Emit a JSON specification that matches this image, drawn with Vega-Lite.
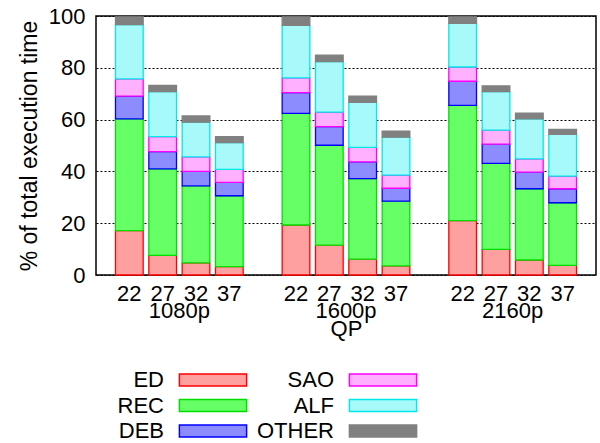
{
  "$schema": "https://vega.github.io/schema/vega-lite/v6.json",
  "width": 500,
  "height": 259,
  "autosize": {"type": "none"},
  "padding": {"left": 96, "top": 16, "right": 4, "bottom": 168},
  "background": "white",
  "config": {
    "font": "Liberation Sans",
    "view": {"stroke": "#000", "strokeWidth": 1.5},
    "axis": {"labelColor": "#000", "titleColor": "#000", "titleFontWeight": "normal", "labelFontSize": 22, "titleFontSize": 22}
  },
  "datasets": {
    "bars": [
      {"res": "1080p", "qp": "22", "bar": "1080p 22", "ED": 17.1, "REC": 43.2, "DEB": 8.8, "SAO": 6.6, "ALF": 21.0, "OTHER": 3.0},
      {"res": "1080p", "qp": "27", "bar": "1080p 27", "ED": 7.6, "REC": 33.4, "DEB": 6.6, "SAO": 5.8, "ALF": 17.4, "OTHER": 2.4},
      {"res": "1080p", "qp": "32", "bar": "1080p 32", "ED": 4.7, "REC": 29.7, "DEB": 5.6, "SAO": 5.6, "ALF": 13.4, "OTHER": 2.4},
      {"res": "1080p", "qp": "37", "bar": "1080p 37", "ED": 3.2, "REC": 27.4, "DEB": 5.2, "SAO": 5.0, "ALF": 10.3, "OTHER": 2.3},
      {"res": "1600p", "qp": "22", "bar": "1600p 22", "ED": 19.3, "REC": 43.1, "DEB": 8.0, "SAO": 5.7, "ALF": 20.3, "OTHER": 3.3},
      {"res": "1600p", "qp": "27", "bar": "1600p 27", "ED": 11.5, "REC": 38.6, "DEB": 7.2, "SAO": 5.6, "ALF": 19.5, "OTHER": 2.5},
      {"res": "1600p", "qp": "32", "bar": "1600p 32", "ED": 6.1, "REC": 31.1, "DEB": 6.5, "SAO": 5.6, "ALF": 17.4, "OTHER": 2.4},
      {"res": "1600p", "qp": "37", "bar": "1600p 37", "ED": 3.5, "REC": 25.0, "DEB": 5.0, "SAO": 5.1, "ALF": 14.6, "OTHER": 2.3},
      {"res": "2160p", "qp": "22", "bar": "2160p 22", "ED": 21.0, "REC": 44.5, "DEB": 9.3, "SAO": 5.5, "ALF": 16.9, "OTHER": 2.5},
      {"res": "2160p", "qp": "27", "bar": "2160p 27", "ED": 9.9, "REC": 33.2, "DEB": 7.4, "SAO": 5.4, "ALF": 14.9, "OTHER": 2.2},
      {"res": "2160p", "qp": "32", "bar": "2160p 32", "ED": 5.8, "REC": 27.5, "DEB": 6.4, "SAO": 5.1, "ALF": 15.5, "OTHER": 2.2},
      {"res": "2160p", "qp": "37", "bar": "2160p 37", "ED": 3.7, "REC": 24.2, "DEB": 5.4, "SAO": 4.9, "ALF": 16.1, "OTHER": 1.9}
    ],
    "groups": [{"res": "1080p"}, {"res": "1600p"}, {"res": "2160p"}]
  },
  "layer": [
    {
      "data": {"name": "bars"},
      "transform": [
        {"fold": ["ED", "REC", "DEB", "SAO", "ALF", "OTHER"], "as": ["part", "value"]},
        {"window": [{"op": "row_number", "as": "k"}], "groupby": ["bar"]}
      ],
      "mark": {"type": "bar", "strokeWidth": 1.3},
      "encoding": {
        "x": {
          "field": "bar", "type": "nominal",
          "scale": {"domain": ["1080p 22", "1080p 27", "1080p 32", "1080p 37", "g1", "1600p 22", "1600p 27", "1600p 32", "1600p 37", "g2", "2160p 22", "2160p 27", "2160p 32", "2160p 37"], "paddingInner": 0.17, "paddingOuter": 0.585},
          "axis": {"orient": "bottom", "title": null, "ticks": false, "domain": false, "grid": false, "labelAngle": 0, "labelPadding": 8, "labelExpr": "length(datum.label) > 4 ? substring(datum.label, 6) : ''"}
        },
        "y": {
          "field": "value", "type": "quantitative", "stack": "zero",
          "scale": {"domain": [0, 100], "nice": false},
          "axis": {"values": [0, 20, 40, 60, 80, 100], "title": "% of total execution time", "titleFontSize": 23, "ticks": false, "domain": false, "grid": true, "gridDash": [2, 2], "gridColor": "#000", "gridWidth": 1, "labelPadding": 11, "titlePadding": 7}
        },
        "order": {"field": "k", "type": "quantitative", "sort": "ascending"},
        "color": {
          "field": "part", "type": "nominal",
          "sort": ["ED", "REC", "DEB", "SAO", "ALF", "OTHER"],
          "scale": {"domain": ["ED", "REC", "DEB", "SAO", "ALF", "OTHER"], "range": ["#ffa0a0", "#66ff66", "#8c8cff", "#ffb0ff", "#a8fafa", "#808080"]},
          "legend": {"orient": "none", "legendX": 104, "legendY": 351, "title": null, "columns": 2, "direction": "vertical", "labelFontSize": 22, "labelColor": "#000", "labelAlign": "right", "labelOffset": -62, "symbolType": "M-2.8,-0.5H2.8V0.5H-2.8Z", "symbolSize": 576, "symbolStrokeWidth": 1.5, "symbolOpacity": 1, "columnPadding": 7, "rowPadding": 1.5}
        },
        "stroke": {
          "field": "part", "type": "nominal",
          "sort": ["ED", "REC", "DEB", "SAO", "ALF", "OTHER"],
          "scale": {"domain": ["ED", "REC", "DEB", "SAO", "ALF", "OTHER"], "range": ["#ff0000", "#00e000", "#0000ff", "#ff00ff", "#00e8e8", "#808080"]},
          "legend": {"orient": "none", "legendX": 104, "legendY": 351, "title": null, "columns": 2, "direction": "vertical", "labelFontSize": 22, "labelColor": "#000", "labelAlign": "right", "labelOffset": -62, "symbolType": "M-2.8,-0.5H2.8V0.5H-2.8Z", "symbolSize": 576, "symbolStrokeWidth": 1.5, "symbolOpacity": 1, "columnPadding": 7, "rowPadding": 1.5}
        }
      }
    },
    {
      "data": {"name": "groups"},
      "mark": {"type": "point", "opacity": 0},
      "encoding": {
        "x": {
          "field": "res", "type": "nominal",
          "scale": {"type": "band", "paddingInner": 0, "paddingOuter": 0},
          "axis": {"orient": "bottom", "title": "QP", "ticks": false, "domain": false, "grid": false, "labelAngle": 0, "labelPadding": 25, "titlePadding": -3}
        }
      }
    }
  ],
  "resolve": {"scale": {"x": "independent"}}
}
